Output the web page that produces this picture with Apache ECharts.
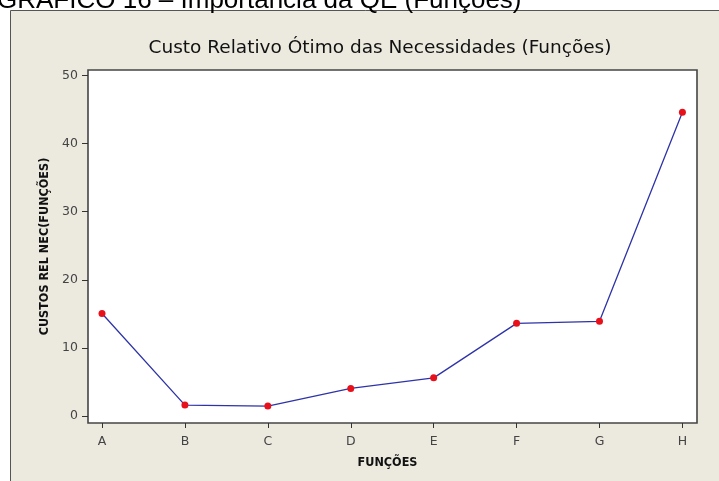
<!DOCTYPE html>
<html>
<head>
<meta charset="utf-8">
<script src="https://cdn.jsdelivr.net/npm/echarts@6/dist/echarts.min.js"></script>
<style>
  html, body { margin: 0; padding: 0; background: #ffffff; }
  #chart { width: 719px; height: 481px; }
</style>
</head>
<body>
<div id="chart"></div>
<script>
// Functions on the horizontal axis
const categories = ['A', 'B', 'C', 'D', 'E', 'F', 'G', 'H'];
// Optimal relative cost of each function
const costs = [15.05, 1.6, 1.45, 4.05, 5.6, 13.6, 13.9, 44.6];
// Value axis tick labels
const yTicks = [0, 10, 20, 30, 40, 50];

const points = categories.map((c, i) => [i, costs[i]]);
const xTicks = categories.map((c, i) => i);

const chart = echarts.init(document.getElementById('chart'), null, { renderer: 'canvas' });

chart.setOption({
  backgroundColor: '#ffffff',
  animation: false,
  graphic: [
    {
      type: 'rect',
      z: -10,
      silent: true,
      shape: { x: 10.5, y: 10.5, width: 740, height: 500 },
      style: { fill: '#ECE9DF', stroke: '#555555', lineWidth: 1 }
    },
    {
      type: 'text',
      z: -5,
      silent: true,
      x: -3,
      y: 1,
      style: {
        text: 'GRÁFICO 16 – Importância da QE (Funções)',
        font: '26px "Liberation Sans", Arial, sans-serif',
        fill: '#000000',
        verticalAlign: 'middle'
      }
    }
  ],
  title: {
    text: 'Custo Relativo Ótimo das Necessidades (Funções)',
    left: 375,
    top: 34,
    textAlign: 'center',
    textStyle: {
      fontFamily: '"DejaVu Sans", sans-serif',
      fontSize: 18.5,
      fontWeight: 'normal',
      color: '#111111'
    }
  },
  grid: {
    show: true,
    left: 88,
    top: 70,
    right: 22,
    bottom: 58,
    backgroundColor: '#ffffff',
    borderColor: '#454545',
    borderWidth: 1.6
  },
  xAxis: {
    type: 'value',
    min: -0.169,
    max: 7.176,
    name: 'FUNÇÕES',
    nameLocation: 'middle',
    nameGap: 33,
    nameTextStyle: {
      fontFamily: '"DejaVu Sans Condensed", "DejaVu Sans", sans-serif',
      fontWeight: 'bold',
      fontSize: 12.5,
      color: '#111111',
      padding: [0, 10, 0, 0]
    },
    axisLine: { show: false, onZero: false },
    splitLine: { show: false },
    axisTick: {
      show: true,
      customValues: xTicks,
      length: 5,
      lineStyle: { color: '#333333', width: 1 }
    },
    axisLabel: {
      customValues: xTicks,
      formatter: v => categories[Math.round(v)],
      margin: 12,
      fontFamily: '"DejaVu Sans", sans-serif',
      fontSize: 12.5,
      color: '#444444'
    }
  },
  yAxis: {
    type: 'value',
    min: -1.03,
    max: 50.8,
    name: 'CUSTOS REL NEC(FUNÇÕES)',
    nameLocation: 'middle',
    nameGap: 34,
    nameRotate: 90,
    nameTextStyle: {
      fontFamily: '"DejaVu Sans Condensed", "DejaVu Sans", sans-serif',
      fontWeight: 'bold',
      fontSize: 12.5,
      color: '#111111'
    },
    axisLine: { show: false, onZero: false },
    splitLine: { show: false },
    axisTick: {
      show: true,
      customValues: yTicks,
      length: 6,
      lineStyle: { color: '#333333', width: 1 }
    },
    axisLabel: {
      customValues: yTicks,
      margin: 10,
      fontFamily: '"DejaVu Sans", sans-serif',
      fontSize: 12.5,
      color: '#444444'
    }
  },
  series: [
    {
      type: 'line',
      data: points,
      symbol: 'circle',
      symbolSize: 7,
      itemStyle: { color: '#E8101A' },
      lineStyle: { color: '#2E33A8', width: 1.3 },
      z: 3
    }
  ]
});
</script>
</body>
</html>
